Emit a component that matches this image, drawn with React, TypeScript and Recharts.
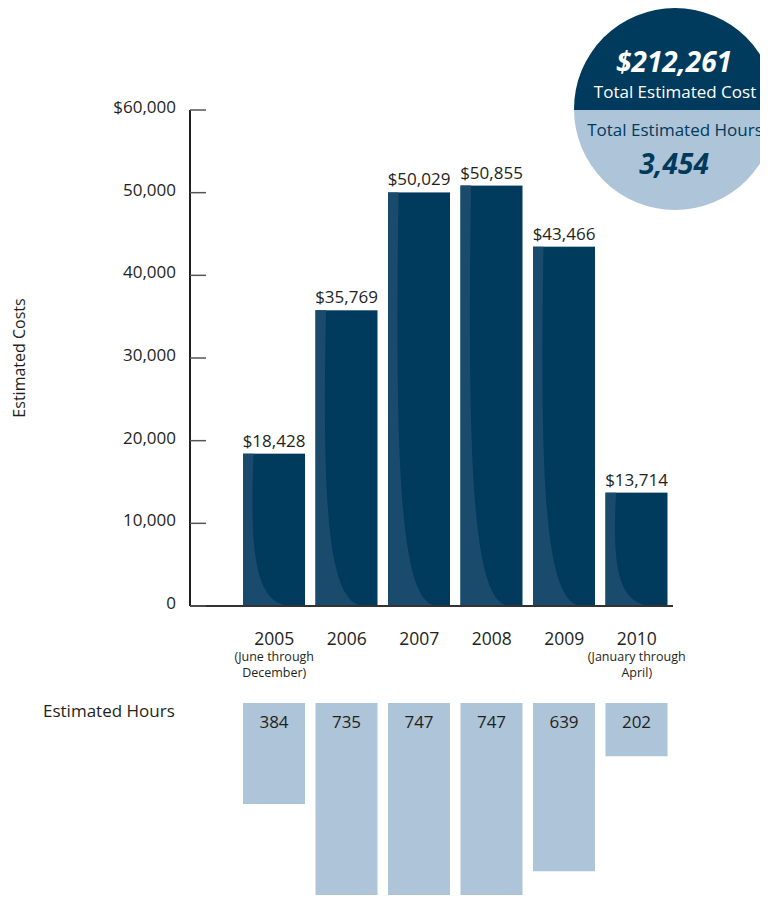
import React from 'react';
import { BarChart, Bar, XAxis, YAxis, LabelList, Label } from 'recharts';

if (typeof document !== 'undefined') {
  document.documentElement.style.overflow = 'hidden';
  document.body.style.overflow = 'hidden';
}

const years = ['2005', '2006', '2007', '2008', '2009', '2010'];
const yearNotes: string[][] = [
  ['(June through', 'December)'],
  [],
  [],
  [],
  [],
  ['(January through', 'April)'],
];
const costs = [18428, 35769, 50029, 50855, 43466, 13714];
const hours = [384, 735, 747, 747, 639, 202];
const costTicks = [0, 10000, 20000, 30000, 40000, 50000, 60000];
const totalCost = '$212,261';
const totalCostLabel = 'Total Estimated Cost';
const totalHours = '3,454';
const totalHoursLabel = 'Total Estimated Hours';

const costData = years.map((year, i) => ({ year, cost: costs[i] }));
const hourData = years.map((year, i) => ({ year, hours: hours[i] }));

const FONT = '"Open Sans", "Noto Sans", sans-serif';
const TEXT = '#231f20';
const NAVY = '#003a5c';
const NAVY_LIGHT = '#1a4b6c';
const PALE = '#aec4d8';

const fmtTick = (v: number) => (v === 60000 ? '$' + v.toLocaleString('en-US') : v.toLocaleString('en-US'));
const fmtCost = (v: any) => '$' + Number(v).toLocaleString('en-US');

const CostTick = (props: any) => {
  const { x, y, payload } = props;
  return (
    <g>
      <text x={x} y={y + 3} textAnchor="end" fontSize={17} fill={TEXT} fontFamily={FONT}>
        {fmtTick(payload.value)}
      </text>
      <line x1={x + 14} x2={x + 30} y1={y} y2={y} stroke="#555" strokeWidth={1.5} />
    </g>
  );
};

const YearTick = (props: any) => {
  const { x, y, payload } = props;
  const idx = years.indexOf(String(payload.value));
  const notes = idx >= 0 ? yearNotes[idx] : [];
  return (
    <g>
      <text x={x} y={y + 39} textAnchor="middle" fontSize={17.5} fill={TEXT} fontFamily={FONT}>
        {payload.value}
      </text>
      {notes.map((n, i) => (
        <text key={i} x={x} y={y + 55 + i * 16} textAnchor="middle" fontSize={12.5} fill={TEXT} fontFamily={FONT}>
          {n}
        </text>
      ))}
    </g>
  );
};

const CostsAxisLabel = (props: any) => {
  const vb = props.viewBox || {};
  const cy = vb.height ? vb.y + vb.height / 2 : 358;
  const cx = 25;
  return (
    <text
      x={cx}
      y={cy}
      textAnchor="middle"
      fontSize={16}
      fill={TEXT}
      fontFamily={FONT}
      transform={`rotate(-90, ${cx}, ${cy})`}
    >
      Estimated Costs
    </text>
  );
};

const HoursLabel = (props: any) => {
  const { x, y, width, height, value } = props;
  const top = Math.min(Number(y), Number(y) + Number(height));
  return (
    <text x={Number(x) + Number(width) / 2} y={top + 25} textAnchor="middle" fontSize={17} fill={TEXT} fontFamily={FONT}>
      {value}
    </text>
  );
};

const ShadedBar = (props: any) => {
  const { x, y, width: w, height: h } = props;
  if (!h || h <= 0) return null;
  const d = `M ${x} ${y} H ${x + 0.17 * w} C ${x + 0.1 * w} ${y + 0.7 * h}, ${x + 0.22 * w} ${y + h}, ${x + 0.8 * w} ${y + h} H ${x} Z`;
  return (
    <g>
      <rect x={x} y={y} width={w} height={h} fill={NAVY} />
      <path d={d} fill={NAVY_LIGHT} />
    </g>
  );
};

export default function App() {
  return (
    <div style={{ position: 'relative', width: 768, height: 903, margin: -8, background: '#fff', fontFamily: FONT, overflow: 'hidden' }}>
      <div style={{ position: 'absolute', left: 0, top: 0 }}>
        <BarChart
          width={768}
          height={690}
          data={costData}
          margin={{ top: 110, right: 95, left: 0, bottom: 0 }}
          barSize={62}
        >
          <YAxis
            width={190}
            domain={[0, 60000]}
            ticks={costTicks}
            interval={0}
            tickSize={0}
            tickMargin={14}
            tickLine={false}
            axisLine={{ stroke: TEXT, strokeWidth: 2 }}
            tick={<CostTick />}
          >
            <Label content={<CostsAxisLabel />} />
          </YAxis>
          <XAxis
            dataKey="year"
            height={84}
            padding={{ left: 48, right: 0 }}
            tickSize={0}
            tickMargin={0}
            tickLine={false}
            interval={0}
            axisLine={{ stroke: '#333', strokeWidth: 2 }}
            tick={<YearTick />}
          />
          <Bar dataKey="cost" isAnimationActive={false} shape={<ShadedBar />}>
            <LabelList
              dataKey="cost"
              position="top"
              offset={7}
              formatter={fmtCost}
              fill={TEXT}
              fontSize={17}
              fontFamily={FONT}
            />
          </Bar>
        </BarChart>
      </div>

      <div style={{ position: 'absolute', left: 0, top: 690 }}>
        <BarChart
          width={768}
          height={213}
          data={hourData}
          margin={{ top: 13, right: 95, left: 190, bottom: 0 }}
          barSize={62}
        >
          <XAxis dataKey="year" hide padding={{ left: 48, right: 0 }} height={0} />
          <YAxis hide reversed domain={[0, 760]} width={0} />
          <Bar dataKey="hours" fill={PALE} isAnimationActive={false}>
            <LabelList dataKey="hours" content={<HoursLabel />} />
          </Bar>
        </BarChart>
      </div>

      <svg width={768} height={903} style={{ position: 'absolute', left: 0, top: 0, pointerEvents: 'none' }}>
        <defs>
          <clipPath id="totalsCircle">
            <circle cx={675} cy={109} r={101} />
          </clipPath>
        </defs>
        <g clipPath="url(#totalsCircle)">
          <rect x={570} y={0} width={210} height={110} fill={NAVY} />
          <rect x={570} y={110} width={210} height={110} fill={PALE} />
        </g>
        <text x={674} y={72} textAnchor="middle" fontSize={28} fontWeight={700} fontStyle="italic" fill="#fff" fontFamily={FONT}>
          {totalCost}
        </text>
        <text x={675} y={98} textAnchor="middle" fontSize={17} fill="#fff" fontFamily={FONT}>
          {totalCostLabel}
        </text>
        <text x={675} y={136} textAnchor="middle" fontSize={17} fill={NAVY} fontFamily={FONT}>
          {totalHoursLabel}
        </text>
        <text x={674} y={174} textAnchor="middle" fontSize={28} fontWeight={700} fontStyle="italic" fill={NAVY} fontFamily={FONT}>
          {totalHours}
        </text>
        <text x={43} y={717} fontSize={17} fill={TEXT} fontFamily={FONT}>
          Estimated Hours
        </text>
      </svg>
    </div>
  );
}
